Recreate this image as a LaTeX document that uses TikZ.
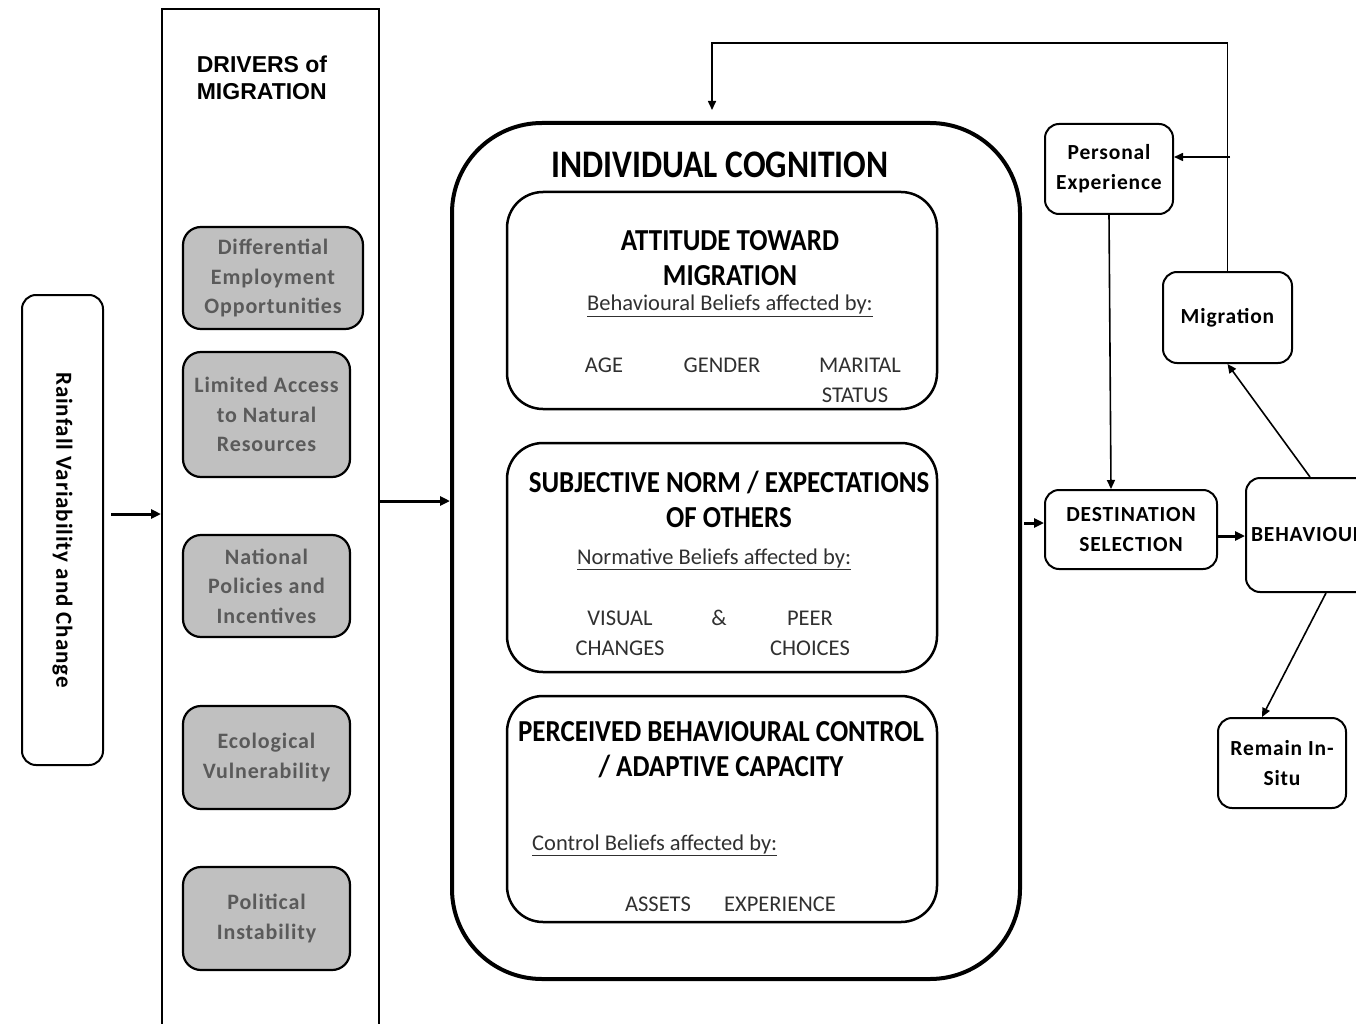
\documentclass[tikz,border=0pt]{standalone}
\usepackage{fontspec}
\setmainfont{Carlito}
\newfontfamily\arialf{Liberation Sans}
\newfontfamily\cnd[FakeStretch=0.885]{Carlito}
\newfontfamily\cndt[FakeStretch=0.86]{Carlito}
\newfontfamily\spc[LetterSpace=4]{Carlito}
\usetikzlibrary{arrows.meta,calc}
\definecolor{grayfill}{HTML}{C0C0C0}
\definecolor{graytext}{HTML}{5A5A5A}
\definecolor{inktext}{HTML}{303030}
\newcommand{\fsz}[2]{\fontsize{#1}{#2}\selectfont}
\begin{document}
\begin{tikzpicture}[x=1pt,y=-1pt,
  arr/.style={-{Triangle[length=9pt,width=8pt]}, line width=1.6pt},
  thickarr/.style={-{Triangle[length=10pt,width=9pt]}, line width=3pt},
  whitebox/.style={draw, line width=2pt, rounded corners=14pt, align=center, inner sep=0pt, font=\spc\bfseries\fsz{21.5}{30}},
  graybox/.style={draw, line width=2.2pt, rounded corners=18pt, fill=grayfill, text=graytext, align=center, inner sep=0pt, font=\spc\bfseries\fsz{22}{29.5}},
  cogbox/.style={draw, line width=2.5pt, rounded corners=36pt, inner sep=0pt},
  head/.style={align=center, inner sep=0pt, font=\cnd\bfseries\fsz{30.5}{35}},
  subtxt/.style={align=center, inner sep=0pt, font=\fsz{22.5}{30}, text=inktext},
]
\useasboundingbox (0,0) rectangle (1356,1024);
\begin{scope}
\clip (0,0) rectangle (1356,1024);

% left column
\node[draw, line width=2pt, rounded corners=14pt, minimum width=81pt, minimum height=470pt, inner sep=0pt] (rain) at (62.5,530) {};
\node[rotate=-90, font=\spc\bfseries\fsz{23}{26}] (raintxt) at (rain.center) {Rainfall Variability and Change};

\node[draw, line width=2pt, minimum width=217pt, minimum height=1030pt, inner sep=0pt] (drivers) at (270.5,524) {};
\node[font=\arialf\bfseries\fsz{23}{27}, align=left, inner sep=0pt] (drvlbl) at (262,78) {DRIVERS of\\MIGRATION};

\node[graybox, minimum width=180pt, minimum height=102pt] (g1) at (273,278) {Differential\\Employment\\Opportunities};
\node[graybox, minimum width=167pt, minimum height=125pt] (g2) at (266.5,414.5) {Limited Access\\to Natural\\Resources};
\node[graybox, minimum width=167pt, minimum height=102pt] (g3) at (266.5,586) {National\\Policies and\\Incentives};
\node[graybox, minimum width=167pt, minimum height=103pt] (g4) at (266.5,757.5) {Ecological\\Vulnerability};
\node[graybox, minimum width=167pt, minimum height=103pt] (g5) at (266.5,918.5) {Political\\Instability};

% individual cognition
\node[draw, line width=4pt, rounded corners=90pt, minimum width=568pt, minimum height=856pt, inner sep=0pt] (cog) at (736,551) {};
\node[font=\cndt\bfseries\fsz{39}{40}, inner sep=0pt] (cogtitle) at (720,165) {INDIVIDUAL COGNITION};

\node[cogbox, minimum width=430pt, minimum height=217pt] (att) at (722,300.5) {};
\node[head] (atth) at (730,258.5) {ATTITUDE TOWARD\\MIGRATION};
\node[subtxt] (attb) at (730,306) {\underline{Behavioural Beliefs affected by:}};
\node[subtxt] (age) at (604,365) {AGE};
\node[subtxt] (gender) at (722,365) {GENDER};
\node[subtxt] (marital) at (860,365) {MARITAL};
\node[subtxt] (status) at (855,395) {STATUS};

\node[cogbox, minimum width=430pt, minimum height=229pt] (sub) at (722,557.5) {};
\node[head] (subh) at (729,499) {SUBJECTIVE NORM / EXPECTATIONS\\OF OTHERS};
\node[subtxt] (subb) at (714,559) {\underline{Normative Beliefs affected by:}};
\node[subtxt] (visual) at (620,633) {VISUAL\\CHANGES};
\node[subtxt] (amp) at (719,618) {\&};
\node[subtxt] (peer) at (810,633) {PEER\\CHOICES};

\node[cogbox, minimum width=430pt, minimum height=226pt] (per) at (722,809) {};
\node[head] (perh) at (721,750) {PERCEIVED BEHAVIOURAL CONTROL\\/ ADAPTIVE CAPACITY};
\node[subtxt, anchor=west] (perb) at (532,845) {\underline{Control Beliefs affected by:}};
\node[subtxt] (assets) at (658,904) {ASSETS};
\node[subtxt] (exper) at (780,904) {EXPERIENCE};

% right side
\node[whitebox, minimum width=128pt, minimum height=90pt] (pe) at (1109,169) {Personal\\Experience};
\node[whitebox, minimum width=129pt, minimum height=91pt] (mig) at (1227.5,317.5) {Migration};
\node[whitebox, minimum width=172pt, minimum height=79pt] (dest) at (1131,529.5) {DESTINATION\\SELECTION};
\node[whitebox, minimum width=134pt, minimum height=114pt, text width=130pt, align=left] (beh) at (1313,535) {\hspace*{3pt}BEHAVIOUR};
\node[whitebox, minimum width=128pt, minimum height=90pt] (rem) at (1282,763) {Remain In-\\Situ};

% connectors
\draw[thickarr] ($(rain.east)+(7,-16)$) coordinate (r1) -- (r1 -| drivers.west);
\draw[thickarr] ($(drivers.east)+(0,-23)$) coordinate (d1) -- (d1 -| cog.west);
\draw[thickarr] ($(cog.east)+(2,-28)$) coordinate (c1) -- (c1 -| dest.west);
\draw[thickarr] ($(dest.east)+(0,6.5)$) coordinate (e1) -- (e1 -| beh.west);
\coordinate (fbtop) at (712,43);
\coordinate (fbend) at (712,110);
\draw[arr] (mig.north) -- (mig.north |- fbtop) -- (fbtop) -- (fbend);
\draw[arr] ($(pe.east)+(0,-12)$) coordinate (p1) ++(56,0) -- (p1);
\draw[arr] (pe.south) -- ($(pe.south |- dest.north)+(2,0)$);
\draw[arr] ($(beh.north)+(-3,0)$) -- (mig.south);
\draw[arr] ($(beh.south)+(13,0)$) -- ($(rem.north)+(-20,0)$);
\end{scope}
\end{tikzpicture}
\end{document}
